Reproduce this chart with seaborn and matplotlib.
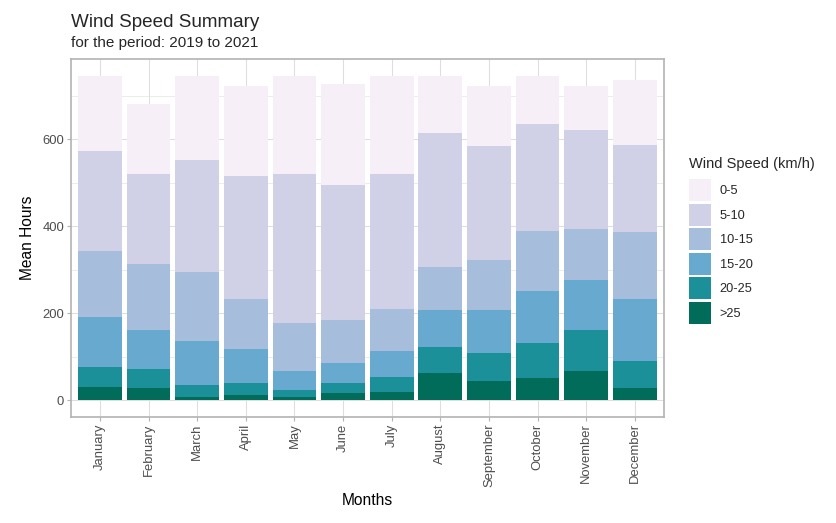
import numpy as np
import pandas as pd
import matplotlib
matplotlib.use("Agg")
import matplotlib.pyplot as plt
import seaborn as sns
from matplotlib.patches import Patch

months = ["January", "February", "March", "April", "May", "June", "July",
          "August", "September", "October", "November", "December"]
speed_bins = ["0-5", "5-10", "10-15", "15-20", "20-25", ">25"]
bin_colors = ["#f6eff7", "#d0d1e6", "#a6bddb", "#67a9cf", "#1c9099", "#016c59"]

# mean hours per month in each wind speed class
hours_0_5 = [171, 161, 195, 207, 225, 232, 227, 131, 138, 109, 101, 150]
hours_5_10 = [230, 206, 257, 282, 342, 310, 309, 307, 262, 247, 227, 200]
hours_10_15 = [153, 152, 158, 116, 111, 99, 97, 99, 114, 137, 117, 153]
hours_15_20 = [113, 89, 101, 77, 43, 46, 60, 84, 99, 121, 116, 144]
hours_20_25 = [48, 45, 29, 29, 16, 22, 34, 62, 64, 79, 93, 62]
hours_gt_25 = [30, 28, 7, 12, 9, 18, 20, 62, 45, 52, 68, 28]

sns.set_theme(style="white")
plt.rcParams['font.family'] = ['Liberation Sans', 'DejaVu Sans']

df = pd.DataFrame({
    "month": months,
    "0-5": hours_0_5,
    "5-10": hours_5_10,
    "10-15": hours_10_15,
    "15-20": hours_15_20,
    "20-25": hours_20_25,
    ">25": hours_gt_25,
})
# stack from the strongest wind at the bottom
stacked = df[speed_bins[::-1]].cumsum(axis=1)

fig = plt.figure(figsize=(8.36, 5.23), dpi=100)
ax = fig.add_axes([0.0846, 0.2033, 0.7097, 0.6833])

# draw cumulative totals, tallest first, so each layer shows its own band
for name, color in zip(speed_bins, bin_colors):
    sns.barplot(x=df["month"], y=stacked[name], order=months, color=color,
                width=0.9, saturation=1, linewidth=0, ax=ax, zorder=3)

top = stacked["0-5"].max()
ax.set_ylim(-0.05 * top, 1.05 * top)
ax.set_xlim(-0.6, len(months) - 0.4)

ax.set_yticks([0, 200, 400, 600])
ax.set_yticks([100, 300, 500, 700], minor=True)
ax.grid(True, which="major", color="#dedede", linewidth=0.75, zorder=0)
ax.grid(True, which="minor", axis="y", color="#dedede", linewidth=0.4, zorder=0)
ax.set_axisbelow(True)
for sp in ax.spines.values():
    sp.set_color("#b3b3b3")
    sp.set_linewidth(1.2)

ax.tick_params(axis="both", which="major", length=2.8, width=0.8, color="#b3b3b3",
               labelsize=9.4, labelcolor="#4d4d4d", pad=2)
ax.tick_params(axis="both", which="minor", length=0)
ax.tick_params(axis="x", labelrotation=90)
ax.tick_params(left=True, bottom=True)

ax.set_xlabel("Months", fontsize=11.2, color="black", labelpad=4)
ax.set_ylabel("Mean Hours", fontsize=11.2, color="black", labelpad=5)

fig.text(0.0846, 0.949, "Wind Speed Summary", fontsize=13.6, ha="left", va="baseline")
fig.text(0.0846, 0.910, "for the period: 2019 to 2021", fontsize=11, ha="left", va="baseline")

handles = [Patch(facecolor=c, edgecolor="none", label=b) for b, c in zip(speed_bins, bin_colors)]
leg = ax.legend(handles=handles, title="Wind Speed (km/h)", loc="upper left",
                bbox_to_anchor=(0.824, 0.700), bbox_transform=fig.transFigure,
                frameon=False, fontsize=9.2, title_fontsize=10.5, alignment="left",
                handlelength=1.72, handleheight=2.27, labelspacing=0.2,
                handletextpad=0.7, borderpad=0, borderaxespad=0)
leg._legend_box.sep = 6

fig.savefig("out.png", dpi=100)
